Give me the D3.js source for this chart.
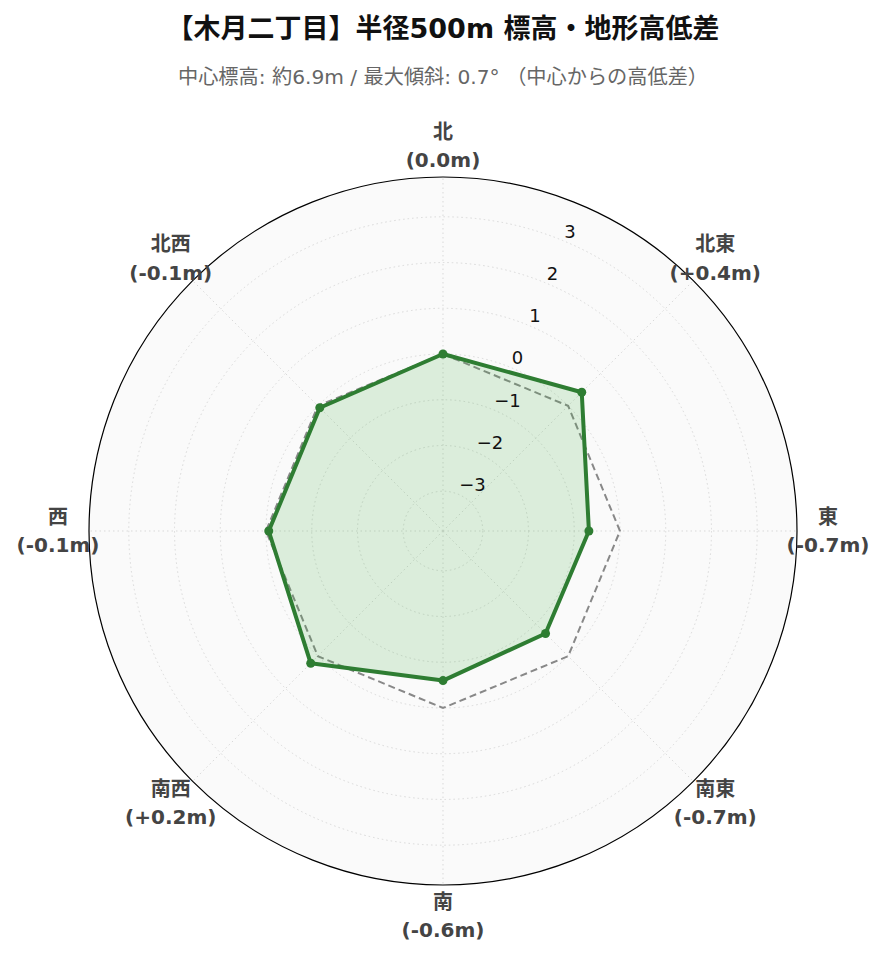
<!DOCTYPE html>
<html>
<head>
<meta charset="utf-8">
<script src="https://cdn.jsdelivr.net/npm/d3@7"></script>
<style>
  body { margin: 0; background: #fff; }
  svg { display: block; }
  text { font-family: 'DejaVu Sans', 'Noto Sans CJK JP', sans-serif; }
</style>
</head>
<body>
<div id="chart"></div>
<script>
// directions clockwise from north, and height difference from the centre (m)
const directions = ["北", "北東", "東", "南東", "南", "南西", "西", "北西"];
const heightDiff = [0.0, 0.42, -0.68, -0.70, -0.60, 0.22, -0.06, -0.06];
const zeroLine = [0, 0, 0, 0, 0, 0, 0, 0];
const radialTicks = [-3, -2, -1, 0, 1, 2, 3];
const radialRange = [-3.87, 3.87];

const titleText = "【木月二丁目】半径500m 標高・地形高低差";
const subtitleText = "中心標高: 約6.9m / 最大傾斜: 0.7° （中心からの高低差）";

const width = 885, height = 962;
const cx = 443, cy = 531, outerR = 354;

const svg = d3.select("#chart").append("svg")
  .attr("width", width)
  .attr("height", height);

// title
svg.append("text")
  .attr("x", cx).attr("y", 38)
  .attr("text-anchor", "middle")
  .style("font-weight", "bold")
  .style("font-size", "27px")
  .style("fill", "#111")
  .text(titleText);

svg.append("text")
  .attr("x", cx).attr("y", 84)
  .attr("text-anchor", "middle")
  .style("font-size", "20.2px")
  .style("fill", "#666")
  .text(subtitleText);

const g = svg.append("g").attr("transform", "translate(" + cx + "," + cy + ")");

// scales
const r = d3.scaleLinear().domain(radialRange).range([0, outerR]);
const angle = d3.scalePoint().domain(directions).range([0, 2 * Math.PI * 7 / 8]);

// background
g.append("circle").attr("r", outerR).attr("fill", "#fafafa");

// circular grid
g.selectAll(".rgrid")
  .data(radialTicks)
  .enter().append("circle")
  .attr("class", "rgrid")
  .attr("r", d => r(d))
  .attr("fill", "none")
  .attr("stroke", "#d9d9d9")
  .attr("stroke-width", 1)
  .attr("stroke-dasharray", "1.5,3");

// spokes
g.selectAll(".spoke")
  .data(directions)
  .enter().append("line")
  .attr("class", "spoke")
  .attr("x1", 0).attr("y1", 0)
  .attr("x2", d => outerR * Math.sin(angle(d)))
  .attr("y2", d => -outerR * Math.cos(angle(d)))
  .attr("stroke", "#d9d9d9")
  .attr("stroke-width", 1)
  .attr("stroke-dasharray", "1.5,3");

// radar lines
const radar = d3.lineRadial()
  .angle((d, i) => angle(directions[i]))
  .radius(d => r(d))
  .curve(d3.curveLinearClosed);

g.append("path")
  .datum(zeroLine)
  .attr("d", radar)
  .attr("fill", "none")
  .attr("stroke", "#888")
  .attr("stroke-width", 2)
  .attr("stroke-dasharray", "7,4");

g.append("path")
  .datum(heightDiff)
  .attr("d", radar)
  .attr("fill", "rgba(76,175,80,0.18)")
  .attr("stroke", "#2e7d32")
  .attr("stroke-width", 4)
  .attr("stroke-linejoin", "round");

g.selectAll(".pt")
  .data(heightDiff)
  .enter().append("circle")
  .attr("class", "pt")
  .attr("cx", (d, i) => r(d) * Math.sin(angle(directions[i])))
  .attr("cy", (d, i) => -r(d) * Math.cos(angle(directions[i])))
  .attr("r", 4.5)
  .attr("fill", "#2e7d32");

// outer ring
g.append("circle").attr("r", outerR)
  .attr("fill", "none")
  .attr("stroke", "#000")
  .attr("stroke-width", 1.2);

// radial tick labels along 22.5 deg
const tickAngle = Math.PI / 8;
g.selectAll(".rtick")
  .data(radialTicks)
  .enter().append("text")
  .attr("class", "rtick")
  .attr("x", d => r(d) * Math.sin(tickAngle) + 1)
  .attr("y", d => -r(d) * Math.cos(tickAngle) - 3)
  .style("font-size", "18px")
  .style("fill", "#111")
  .text(d => d < 0 ? "\u2212" + Math.abs(d) : d);

// angular labels
function fmt(v) {
  const s = v.toFixed(1);
  return "(" + (v > 0 && s !== "0.0" ? "+" : "") + s + "m)";
}
const labelR = outerR + 31;
const lab = g.selectAll(".alab")
  .data(directions)
  .enter().append("text")
  .attr("class", "alab")
  .attr("text-anchor", "middle")
  .style("font-weight", "bold")
  .style("font-size", "20px")
  .style("fill", "#444");
lab.append("tspan")
  .attr("x", d => labelR * Math.sin(angle(d)))
  .attr("y", d => -labelR * Math.cos(angle(d)) - 7.5)
  .text(d => d);
lab.append("tspan")
  .attr("x", d => labelR * Math.sin(angle(d)))
  .attr("y", d => -labelR * Math.cos(angle(d)) + 21)
  .text((d, i) => fmt(heightDiff[i]));
</script>
</body>
</html>
